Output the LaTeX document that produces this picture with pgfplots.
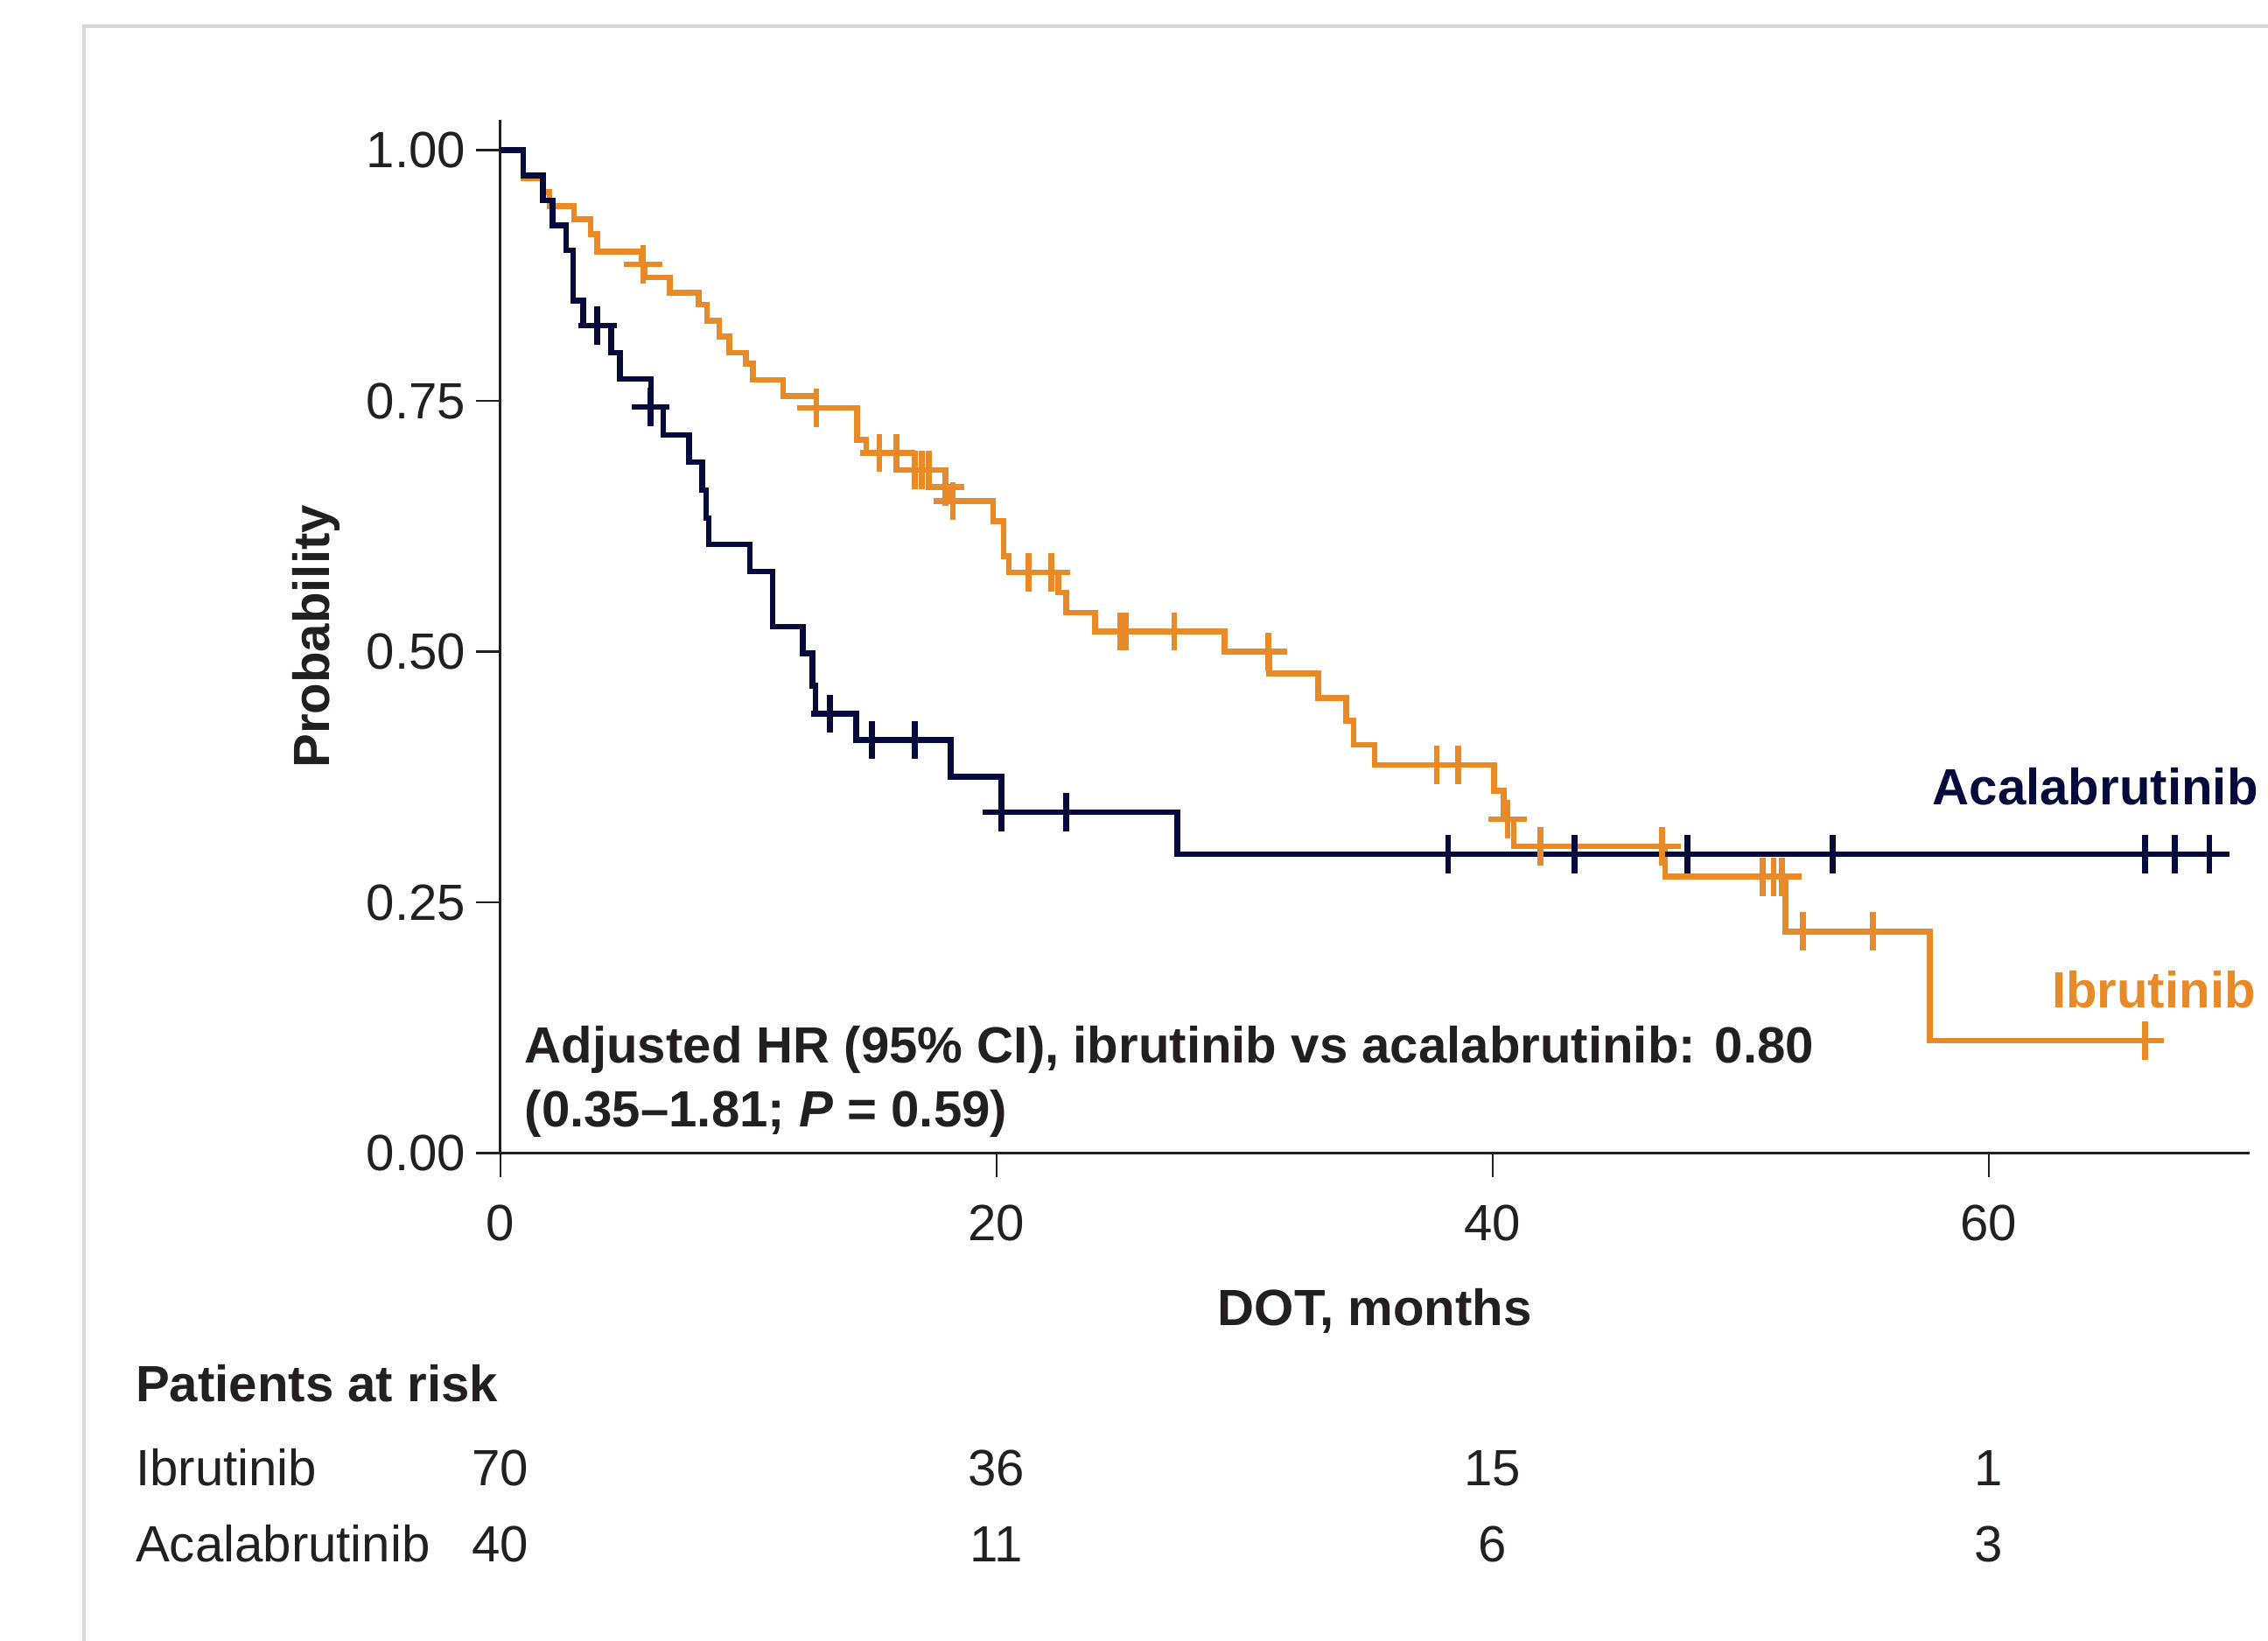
\documentclass[border=0pt]{standalone}
\usepackage{pgfplots}
\pgfplotsset{compat=1.18}
\usepackage{fontspec}
\setmainfont{Liberation Sans}
\definecolor{navy}{HTML}{050A3C}
\definecolor{orng}{HTML}{E88A28}
\definecolor{txt}{HTML}{231F20}
\definecolor{framec}{HTML}{D9D6D6}
\newcommand{\fs}{\fontsize{8.8}{10.5}\selectfont}
\begin{document}
\begin{tikzpicture}
\path[use as bounding box] (0,0) rectangle (392pt,283.5pt);
\draw[framec, line width=0.6pt] (14.5pt,0) -- (14.5pt,279pt) -- (392pt,279pt);
\begin{axis}[
  at={(86.5pt,84.25pt)}, anchor=south west,
  scale only axis, width=302.25pt, height=178.5pt,
  xmin=0, xmax=70.5, ymin=0, ymax=1.03,
  axis x line=bottom, axis y line=left,
  axis line style={-, line width=0.45pt, txt},
  xtick={0,20,40,60}, ytick={0,0.25,0.5,0.75,1},
  tick align=outside, major tick length=4.2pt,
  tick style={line width=0.4pt, txt},
  ticklabel style={font=\fs, text=txt},
  xticklabel style={yshift=-1.3pt},
  /pgf/number format/assume math mode=true,
  yticklabel style={xshift=1.7pt, /pgf/number format/fixed, /pgf/number format/fixed zerofill, /pgf/number format/precision=2},
  xlabel={\textbf{DOT, months}}, ylabel={\textbf{Probability}},
  label style={font=\fs, text=txt},
  xlabel style={at={(axis cs:35.25,-0.1717)}, anchor=base},
  ylabel style={at={(axis cs:-6.88,0.515)}, anchor=base},
  clip=false,
]
% Ibrutinib (orange)
\addplot[const plot, orng, line width=1pt] coordinates {
(0,1) (0.92,0.972) (1.71,0.958) (1.97,0.944) (2.97,0.931) (3.64,0.916) (3.91,0.899)
(5.70,0.886) (5.80,0.873) (6.82,0.858) (8.00,0.846) (8.32,0.830) (8.82,0.814)
(9.23,0.798) (9.89,0.787) (10.18,0.771) (11.39,0.755) (12.73,0.743) (14.38,0.711)
(14.74,0.698) (15.96,0.681) (17.96,0.664) (18.17,0.650) (19.86,0.630) (20.29,0.595)
(20.50,0.579) (22.48,0.559) (22.80,0.539) (23.97,0.520) (29.20,0.500) (31.00,0.478)
(32.96,0.454) (34.10,0.431) (34.40,0.407) (35.24,0.387) (40.05,0.361) (40.45,0.333)
(40.85,0.306) (46.95,0.2755) (51.80,0.221) (57.63,0.112) (66.3,0.112)
};
\addplot[only marks, mark=+, mark size=3.3pt, orng, mark options={line width=1pt}] coordinates {
(5.75,0.886) (12.73,0.743) (15.28,0.698) (15.96,0.698) (16.71,0.681) (16.98,0.681)
(17.26,0.681) (17.93,0.664) (18.24,0.650) (21.3,0.579) (22.2,0.579) (25.0,0.520)
(25.2,0.520) (27.17,0.520) (30.95,0.500) (37.74,0.387) (38.6,0.387) (40.6,0.333)
(41.93,0.306) (46.83,0.306) (50.88,0.2755) (51.33,0.2755) (51.67,0.2755) (52.5,0.221)
(55.34,0.221) (66.3,0.112)
};
% Acalabrutinib (navy)
\addplot[const plot, navy, line width=1pt] coordinates {
(0,1) (0.92,0.975) (1.71,0.95) (2.10,0.925) (2.65,0.90) (2.93,0.85) (3.33,0.825)
(4.46,0.798) (4.81,0.772) (6.07,0.744) (6.56,0.716) (7.61,0.689) (8.13,0.661)
(8.29,0.633) (8.40,0.607) (10.05,0.580) (10.97,0.525) (12.18,0.498) (12.57,0.466)
(12.70,0.438) (14.35,0.412) (18.16,0.375) (20.20,0.340) (27.28,0.298) (69.7,0.298)
};
\addplot[only marks, mark=+, mark size=3.3pt, navy, mark options={line width=1pt}] coordinates {
(3.91,0.825) (6.05,0.744) (13.28,0.438) (14.98,0.412) (16.71,0.412) (20.2,0.340)
(22.8,0.340) (38.2,0.298) (43.3,0.298) (47.85,0.298) (53.7,0.298) (66.3,0.298)
(67.5,0.298) (68.9,0.298)
};
\node[anchor=base east, inner sep=0, font=\fs\bfseries, text=navy] at (axis cs:70.9,0.347) {Acalabrutinib};
\node[anchor=base east, inner sep=0, font=\fs\bfseries, text=orng] at (axis cs:70.8,0.145) {Ibrutinib};
\node[anchor=base west, inner sep=0, font=\fs\bfseries, text=txt] at (axis cs:0.93,0.0895) {Adjusted HR (95\% CI), ibrutinib vs acalabrutinib: 0.80};
\node[anchor=base west, inner sep=0, font=\fs\bfseries, text=txt] at (axis cs:0.93,0.026) {(0.35--1.81; \textit{P} = 0.59)};
% patients at risk
\node[anchor=base west, inner sep=0, font=\fs\bfseries, text=txt] at (axis cs:-14.75,-0.248) {Patients at risk};
\node[anchor=base west, inner sep=0, font=\fs, text=txt] at (axis cs:-14.75,-0.332) {Ibrutinib};
\node[anchor=base west, inner sep=0, font=\fs, text=txt] at (axis cs:-14.75,-0.408) {Acalabrutinib};
\node[anchor=base, inner sep=0, font=\fs, text=txt] at (axis cs:0,-0.332) {70};
\node[anchor=base, inner sep=0, font=\fs, text=txt] at (axis cs:20,-0.332) {36};
\node[anchor=base, inner sep=0, font=\fs, text=txt] at (axis cs:40,-0.332) {15};
\node[anchor=base, inner sep=0, font=\fs, text=txt] at (axis cs:60,-0.332) {1};
\node[anchor=base, inner sep=0, font=\fs, text=txt] at (axis cs:0,-0.408) {40};
\node[anchor=base, inner sep=0, font=\fs, text=txt] at (axis cs:20,-0.408) {11};
\node[anchor=base, inner sep=0, font=\fs, text=txt] at (axis cs:40,-0.408) {6};
\node[anchor=base, inner sep=0, font=\fs, text=txt] at (axis cs:60,-0.408) {3};
\end{axis}
\end{tikzpicture}
\end{document}
